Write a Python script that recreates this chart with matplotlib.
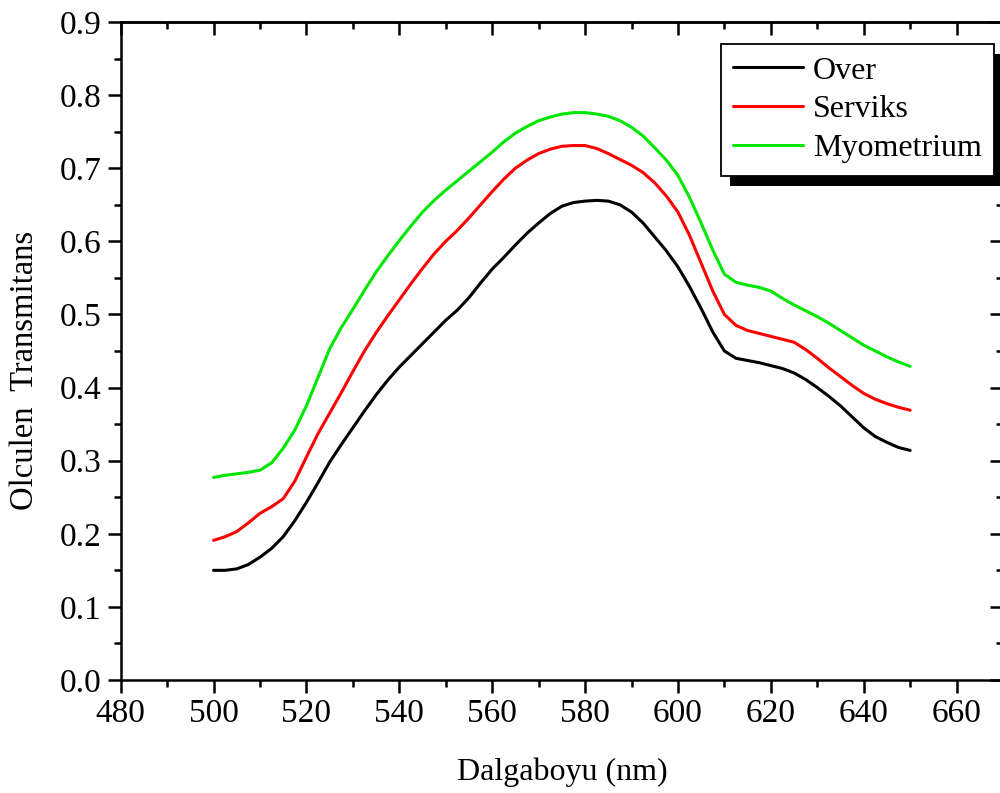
import numpy as np
import matplotlib
matplotlib.use('Agg')
from matplotlib import pyplot as plt
from matplotlib.ticker import MultipleLocator, FormatStrFormatter
from matplotlib.patches import Rectangle

# data (every 2.5 nm)
wavelength = np.arange(500, 652.5, 2.5)
over = [0.150, 0.150, 0.152, 0.158, 0.168, 0.180, 0.196, 0.218, 0.243, 0.270,
        0.298, 0.322, 0.345, 0.368, 0.390, 0.410, 0.428, 0.444, 0.460, 0.476,
        0.492, 0.506, 0.523, 0.543, 0.562, 0.578, 0.595, 0.611, 0.625, 0.638,
        0.648, 0.653, 0.655, 0.656, 0.655, 0.650, 0.640, 0.625, 0.606, 0.587,
        0.565, 0.538, 0.508, 0.476, 0.450, 0.440, 0.437, 0.434, 0.430, 0.426,
        0.420, 0.411, 0.400, 0.388, 0.375, 0.360, 0.345, 0.333, 0.325, 0.318,
        0.314]
serviks = [0.191, 0.196, 0.203, 0.215, 0.228, 0.237, 0.248, 0.272, 0.305, 0.337,
           0.365, 0.393, 0.422, 0.450, 0.475, 0.498, 0.520, 0.542, 0.563, 0.583,
           0.600, 0.615, 0.632, 0.650, 0.668, 0.685, 0.700, 0.711, 0.720, 0.726,
           0.730, 0.731, 0.731, 0.727, 0.720, 0.712, 0.704, 0.694, 0.680, 0.662,
           0.640, 0.608, 0.570, 0.532, 0.500, 0.485, 0.478, 0.474, 0.470, 0.466,
           0.462, 0.452, 0.440, 0.427, 0.415, 0.403, 0.392, 0.384, 0.378, 0.373,
           0.369]
myometrium = [0.277, 0.280, 0.282, 0.284, 0.287, 0.297, 0.317, 0.342, 0.375, 0.414,
              0.453, 0.482, 0.507, 0.533, 0.558, 0.580, 0.601, 0.621, 0.640, 0.656,
              0.670, 0.683, 0.696, 0.709, 0.722, 0.736, 0.748, 0.757, 0.765, 0.770,
              0.774, 0.776, 0.776, 0.774, 0.771, 0.765, 0.756, 0.744, 0.728, 0.711,
              0.690, 0.660, 0.625, 0.588, 0.555, 0.544, 0.540, 0.537, 0.532, 0.522,
              0.513, 0.505, 0.497, 0.488, 0.478, 0.468, 0.458, 0.450, 0.442, 0.435,
              0.429]
series_names = ['Over', 'Serviks', 'Myometrium']
series_colors = ['black', '#ff0000', '#00e600']

plt.rcParams['font.family'] = 'Liberation Serif'
plt.rcParams['font.size'] = 24

fig = plt.figure(figsize=(10, 7.93), dpi=100)
ax = fig.add_axes([0.1207, 0.1425, 0.8823, 0.8298])

for vals, name, col in zip([over, serviks, myometrium], series_names, series_colors):
    ax.plot(wavelength, vals, color=col, lw=2.2, label=name,
            solid_joinstyle='round', solid_capstyle='round')

ax.set_xlim(480, 670)
ax.set_ylim(0.0, 0.9)
ax.xaxis.set_major_locator(MultipleLocator(20))
ax.xaxis.set_minor_locator(MultipleLocator(10))
ax.yaxis.set_major_locator(MultipleLocator(0.1))
ax.yaxis.set_minor_locator(MultipleLocator(0.05))
ax.yaxis.set_major_formatter(FormatStrFormatter('%.1f'))
ax.tick_params(which='major', direction='out', length=9.5, width=1.8, pad=4)
ax.tick_params(which='minor', direction='out', length=5, width=1.8)
for s in ax.spines.values():
    s.set_linewidth(1.8)

# mirrored ticks (pointing inward) on top and right
top = ax.secondary_xaxis('top')
top.xaxis.set_major_locator(MultipleLocator(20))
top.xaxis.set_minor_locator(MultipleLocator(10))
top.tick_params(which='major', direction='in', length=9.5, width=1.8, labeltop=False)
top.tick_params(which='minor', direction='in', length=5, width=1.8)
top.spines['top'].set_linewidth(1.8)
right = ax.secondary_yaxis('right')
right.yaxis.set_major_locator(MultipleLocator(0.1))
right.yaxis.set_minor_locator(MultipleLocator(0.05))
right.tick_params(which='major', direction='in', length=9.5, width=1.8, labelright=False)
right.tick_params(which='minor', direction='in', length=5, width=1.8)
right.spines['right'].set_linewidth(1.8)

ax.set_xlabel('Dalgaboyu (nm)', fontsize=23, labelpad=20)
ax.set_ylabel('Olculen  Transmitans', fontsize=23.5)
ax.yaxis.set_label_coords(-0.092, 0.471)

leg = ax.legend(loc='upper left', bbox_to_anchor=(0.721, 0.9445),
                bbox_transform=fig.transFigure, borderaxespad=0, fancybox=False,
                framealpha=1, edgecolor='black', handlelength=2.2, handletextpad=0.3,
                labelspacing=0.3, borderpad=0.38, fontsize=23)
leg.get_frame().set_linewidth(1.3)
leg.set_zorder(6)

# black drop shadow behind the legend
fig.canvas.draw()
bb = leg.get_window_extent()
x0, y0 = fig.transFigure.inverted().transform((bb.x0 + 9, bb.y0 - 10))
x1, y1 = fig.transFigure.inverted().transform((bb.x1 + 9, bb.y1 - 10))
ax.add_patch(Rectangle((x0, y0), x1 - x0, y1 - y0, transform=fig.transFigure,
                       facecolor='black', edgecolor='none', zorder=5.5, clip_on=False))

plt.savefig('out.png', dpi=100)
